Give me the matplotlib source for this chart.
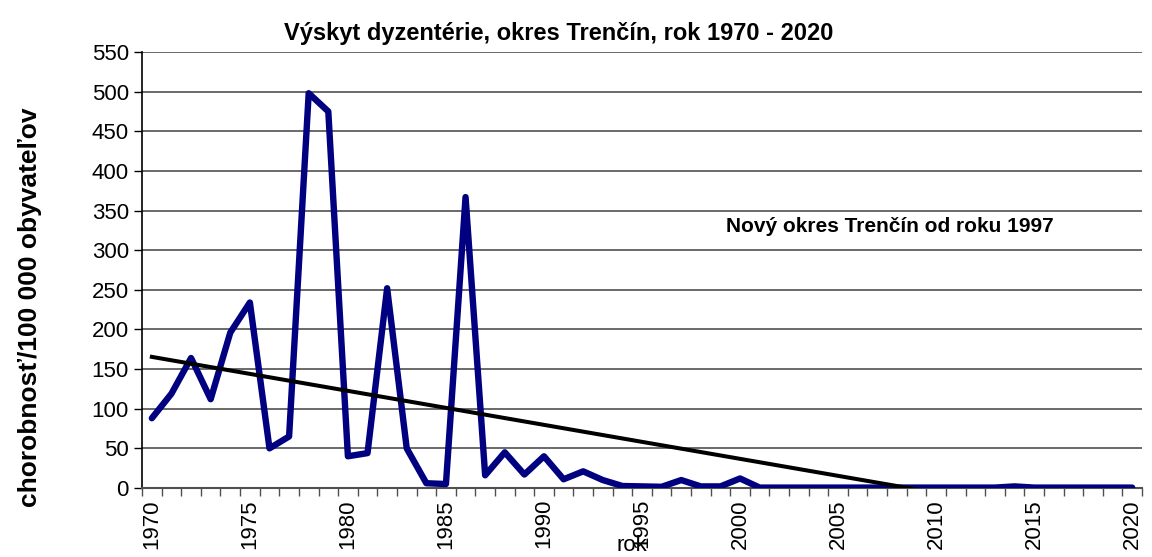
import numpy as np
import matplotlib
matplotlib.use('Agg')
import matplotlib.pyplot as plt

plt.rcParams['font.family'] = ['Liberation Sans', 'DejaVu Sans']

roky = np.arange(1970, 2021)
chorobnost = [88, 119, 164, 112, 196, 234, 50, 65, 498, 475,
              40, 44, 252, 50, 6, 5, 367, 16, 45, 17,
              40, 11, 21, 10, 2.5, 2, 1.5, 10, 2, 2,
              12, 0.5, 0.5, 0.5, 0.5, 0.5, 0.5, 0.5, 0.5, 0.5,
              0.5, 0.5, 0.5, 0.5, 2, 0.5, 0.5, 0.5, 0.5, 0.5,
              0.5]

x = np.arange(len(roky))
koef = np.polyfit(x, chorobnost, 1)
trend = np.polyval(koef, x)

fig = plt.figure(figsize=(11.52, 5.57), dpi=100)
ax = fig.add_axes([0.1233, 0.1239, 0.868, 0.7827])

for y in np.arange(50, 551, 50):
    ax.axhline(y, color='#505050', lw=1.2, zorder=1)

ax.plot(x, chorobnost, color='#000080', lw=4.6, solid_joinstyle='round',
        solid_capstyle='round', zorder=3)
ax.plot(x, trend, color='black', lw=2.9, zorder=4)

ax.set_xlim(-0.5, len(roky) - 0.5)
ax.set_ylim(0, 550)
ax.set_yticks(np.arange(0, 551, 50))
ax.tick_params(axis='y', labelsize=16, length=6, direction='out', width=1)

# x ticks: marks between categories, labels every 5 years
ax.set_xticks(x[::5])
ax.set_xticklabels([str(r) for r in roky[::5]], rotation=90, fontsize=16)
ax.set_xticks(np.arange(-0.5, len(roky), 1), minor=True)
ax.tick_params(axis='x', which='major', length=0, pad=8)
ax.tick_params(axis='x', which='minor', length=6, width=1, color='#505050')

for s in ['top', 'right']:
    ax.spines[s].set_visible(False)
ax.spines['left'].set_linewidth(1.2)
ax.spines['bottom'].set_color('#505050')
ax.spines['bottom'].set_linewidth(1.5)

ax.set_title("Výskyt dyzentérie, okres Trenčín, rok 1970 - 2020",
             fontsize=17, fontweight='bold', x=0.417, pad=9)
ax.set_ylabel("chorobnosť/100 000 obyvateľov", fontsize=19,
              fontweight='bold')
ax.yaxis.set_label_coords(-0.1, 0.415)
ax.set_xlabel("rok", fontsize=16)
ax.xaxis.set_label_coords(0.49, -0.108)
ax.text(29.3, 330, "Nový okres Trenčín od roku 1997", fontsize=15,
        fontweight='bold', va='center')

plt.savefig("out.png", dpi=100)
